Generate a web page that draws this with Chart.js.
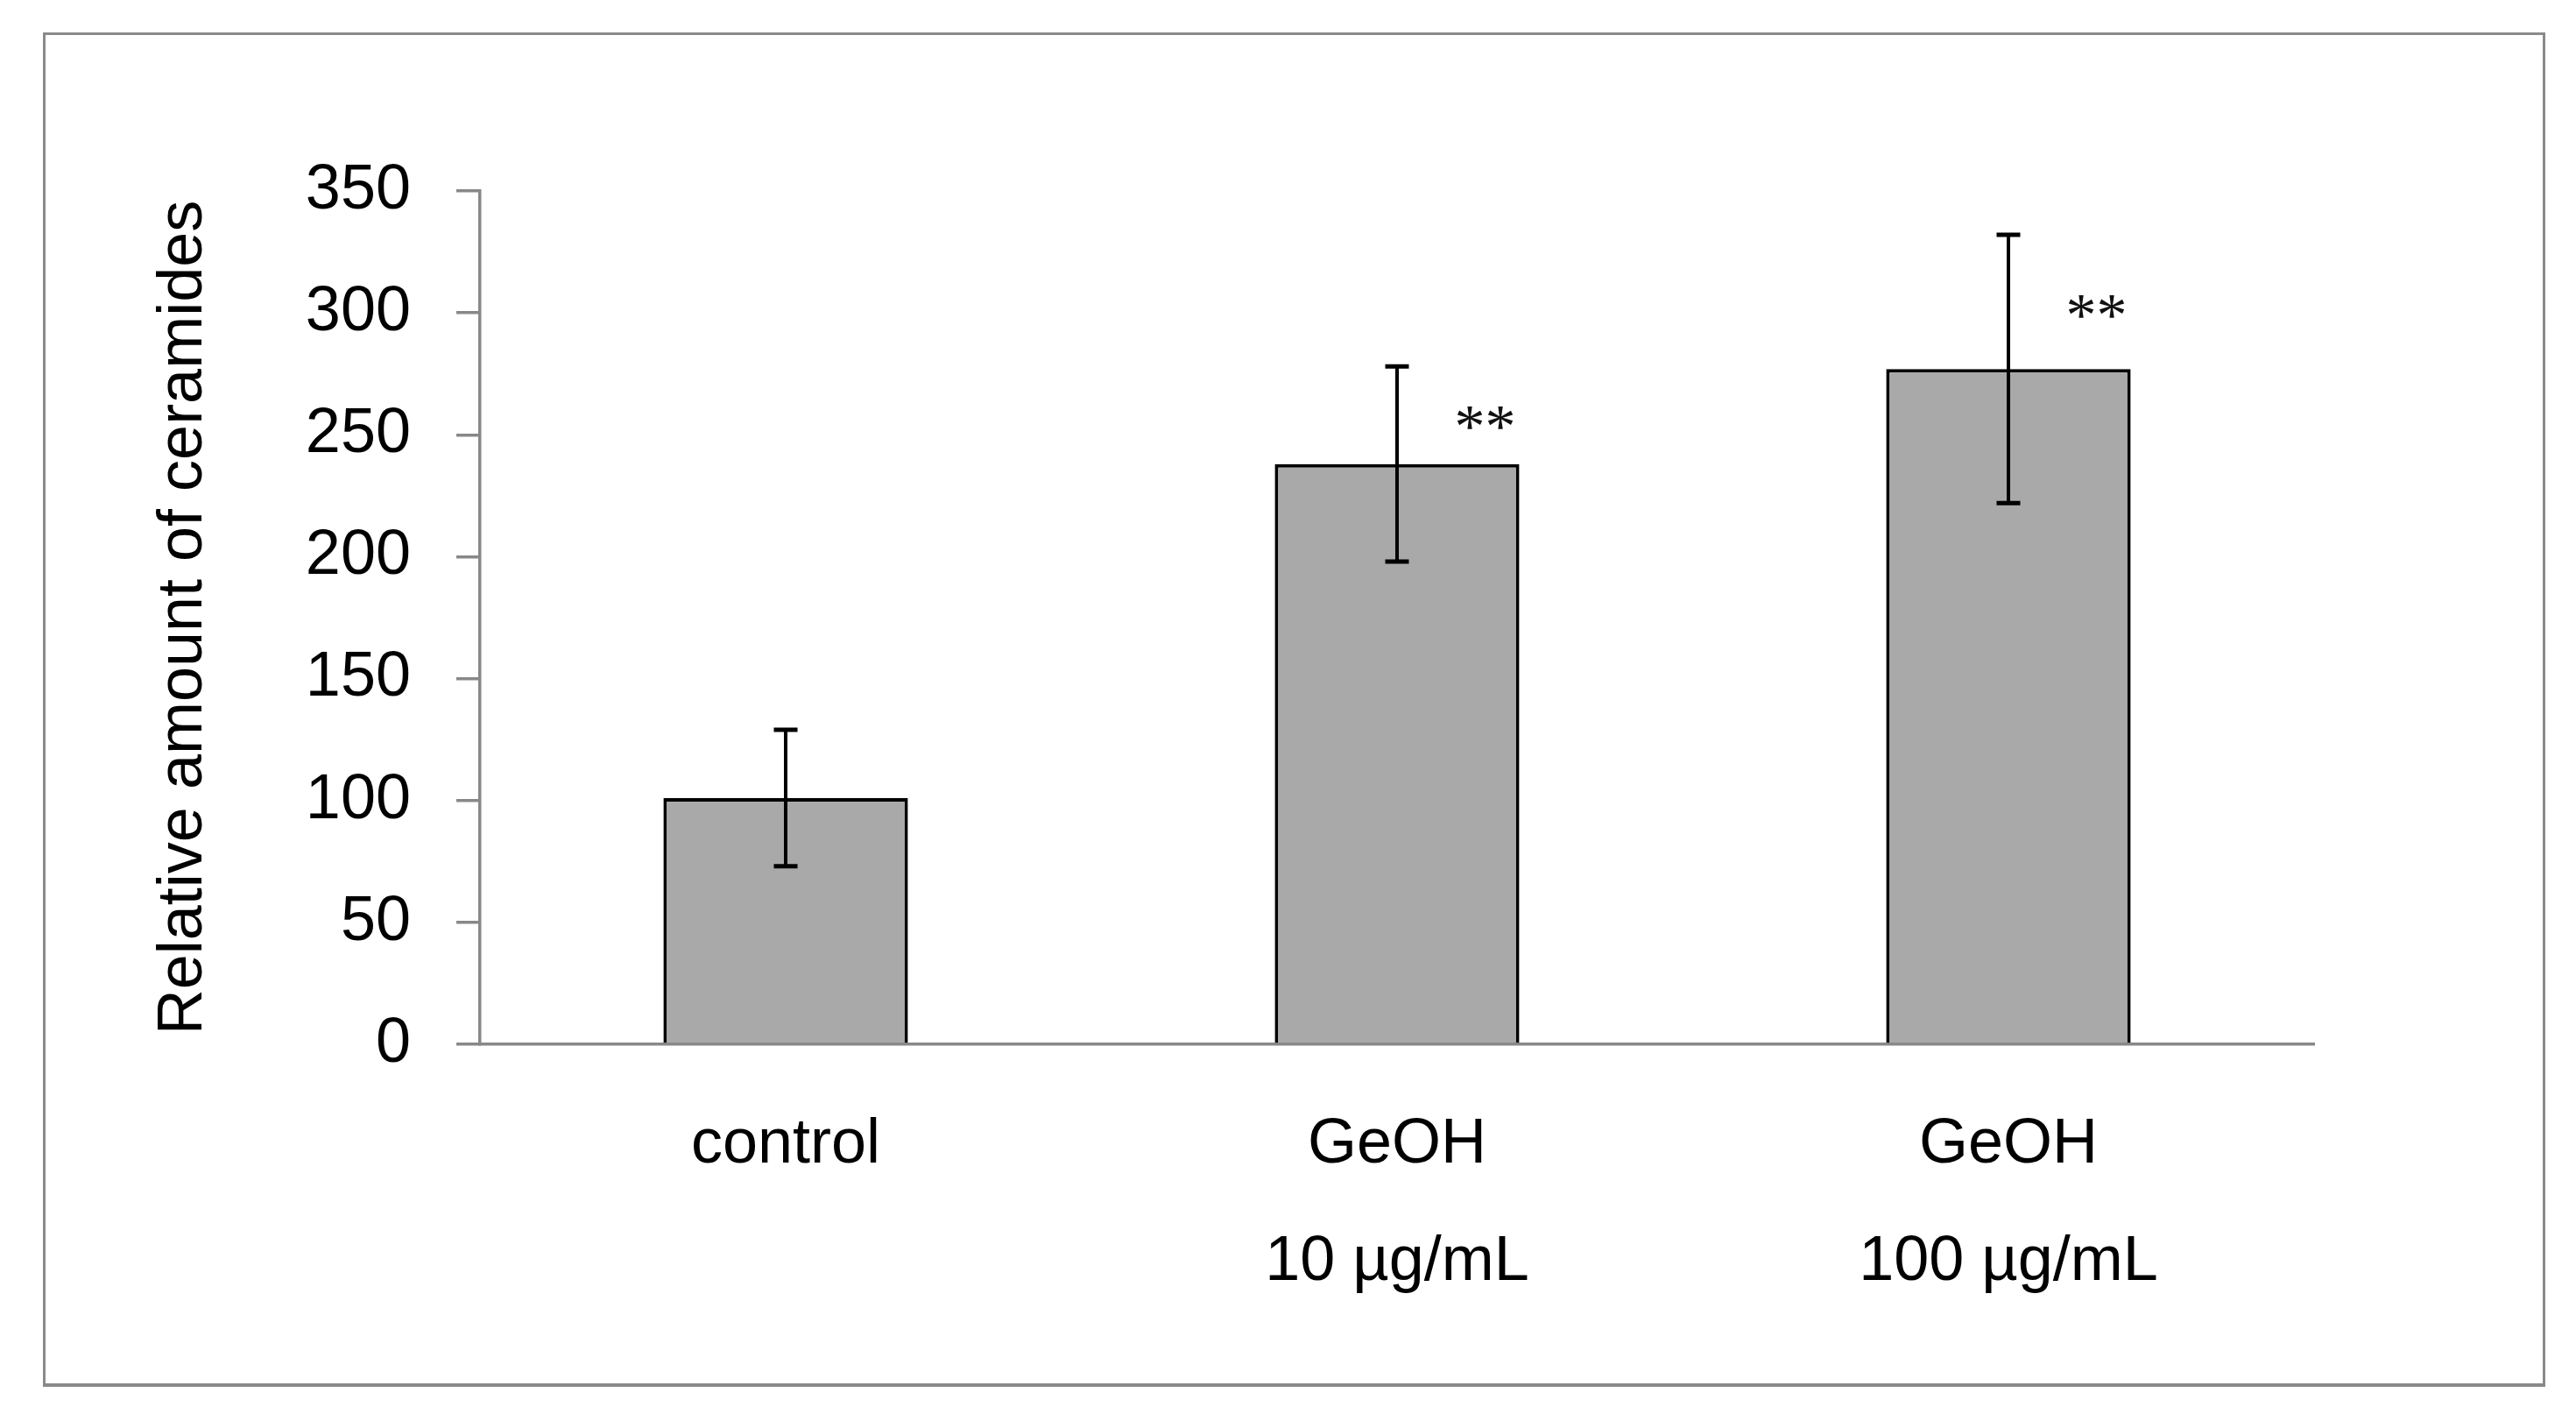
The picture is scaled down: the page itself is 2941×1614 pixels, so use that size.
<!DOCTYPE html>
<html>
<head>
<meta charset="utf-8">
<script src="https://cdn.jsdelivr.net/npm/chart.js@4/dist/chart.umd.min.js"></script>
<style>
html, body { margin: 0; padding: 0; background: #fff; }
#frame { position: absolute; left: 49px; top: 37px; width: 2857px; height: 1546px; box-sizing: border-box; border: 3px solid #8a8a8a; border-bottom-width: 4px; }
#chart { display: block; }
</style>
</head>
<body>
<div id="frame"><canvas id="chart"></canvas></div>
<script>
// values
const categories = [['control'], ['GeOH', '10 µg/mL'], ['GeOH', '100 µg/mL']];
const means = [101, 238, 277];
const errors = [28, 40, 55];
const marks = ['', '**', '**'];
const yMin = 0;
const yMax = 350;
const yStep = 50;

const errorBars = {
    id: 'errorBars',
    afterDatasetsDraw(chart) {
        const ctx = chart.ctx;
        const y = chart.scales.y;
        const bars = chart.getDatasetMeta(0).data;
        ctx.save();
        ctx.strokeStyle = '#000';
        bars.forEach(function(bar, i) {
            const top = y.getPixelForValue(means[i] + errors[i]);
            const bottom = y.getPixelForValue(means[i] - errors[i]);
            ctx.lineWidth = 4;
            ctx.beginPath();
            ctx.moveTo(bar.x, top);
            ctx.lineTo(bar.x, bottom);
            ctx.stroke();
            ctx.lineWidth = 5;
            ctx.beginPath();
            ctx.moveTo(bar.x - 13.5, top);
            ctx.lineTo(bar.x + 13.5, top);
            ctx.moveTo(bar.x - 13.5, bottom);
            ctx.lineTo(bar.x + 13.5, bottom);
            ctx.stroke();

            if (marks[i]) {
                ctx.fillStyle = '#111';
                ctx.font = '70px "Liberation Serif"';
                ctx.textAlign = 'center';
                ctx.textBaseline = 'middle';
                ctx.fillText(marks[i], bar.x + bar.width * 0.36, y.getPixelForValue(means[i] + errors[i] * 0.45) + 12);
            }
        });
        ctx.restore();
    }
};

const ctx = document.getElementById('chart').getContext('2d');
new Chart(ctx, {
    type: 'bar',
    data: {
        labels: categories,
        datasets: [{
            data: means,
            backgroundColor: '#a9a9a9',
            borderColor: '#000',
            borderWidth: 4,
            borderSkipped: 'bottom',
            barPercentage: 0.4,
            categoryPercentage: 1.0
        }]
    },
    options: {
        responsive: true,
        maintainAspectRatio: false,
        animation: false,
        devicePixelRatio: 1,
        layout: { padding: { left: 0, top: 178, right: 261, bottom: 0 } },
        plugins: {
            legend: { display: false },
            tooltip: { enabled: false }
        },
        scales: {
            x: {
                grid: { display: false },
                border: { display: true, color: '#888', width: 3.5 },
                ticks: {
                    color: '#000',
                    padding: 40,
                    font: { family: '"Liberation Sans", Arial, sans-serif', size: 72, lineHeight: 1.86 },
                    maxRotation: 0
                },
                afterFit: function(scale) { scale.height = 387; }
            },
            y: {
                min: yMin,
                max: yMax,
                ticks: {
                    stepSize: yStep,
                    color: '#000',
                    padding: 52,
                    font: { family: '"Liberation Sans", Arial, sans-serif', size: 72 }
                },
                grid: { drawOnChartArea: false, drawTicks: true, tickLength: 27, color: '#888', lineWidth: 3.5 },
                border: { display: true, color: '#888', width: 3.5 },
                title: {
                    display: true,
                    text: 'Relative amount of ceramides',
                    color: '#000',
                    padding: { top: 115, bottom: 0 },
                    font: { family: '"Liberation Sans", Arial, sans-serif', size: 72, lineHeight: 1.2 }
                },
                afterFit: function(scale) { scale.width = 496; }
            }
        }
    },
    plugins: [errorBars]
});
</script>
</body>
</html>
